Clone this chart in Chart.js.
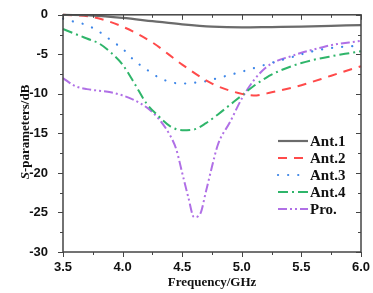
<!DOCTYPE html>
<html>
<head>
<meta charset="utf-8">
<script src="https://cdn.jsdelivr.net/npm/chart.js@4"></script>
<style>
  html, body { margin: 0; padding: 0; background: #fff; }
  #wrap { width: 373px; height: 293px; }
</style>
</head>
<body>
<div id="wrap"><canvas id="chart" width="373" height="293"></canvas></div>
<script>
// data
let freqAnt1 = [3.5, 3.75, 4.0, 4.25, 4.5, 4.75, 5.0, 5.25, 5.5, 5.75, 6.0];
let ant1 = [0, -0.1, -0.4, -0.8, -1.2, -1.5, -1.6, -1.55, -1.5, -1.4, -1.3];

let freqAnt2 = [3.5, 3.75, 4.0, 4.25, 4.5, 4.75, 5.0, 5.1, 5.25, 5.5, 5.75, 6.0];
let ant2 = [0, -0.3, -1.5, -3.5, -6.3, -8.7, -10.0, -10.2, -9.8, -8.9, -7.7, -6.5];

let freqFine = [3.5, 3.6, 3.7, 3.8, 3.9, 4.0, 4.1, 4.2, 4.3, 4.4, 4.5, 4.6, 4.7, 4.8, 4.9,
                5.0, 5.1, 5.2, 5.3, 5.4, 5.5, 5.6, 5.7, 5.8, 5.9, 6.0];
let ant3 = [-0.5, -0.9, -1.3, -2.1, -3.2, -4.3, -5.8, -6.9, -7.9, -8.5, -8.7, -8.6, -8.4, -8.0, -7.6,
            -7.2, -6.75, -6.3, -5.85, -5.45, -5.0, -4.6, -4.3, -4.1, -4.0, -3.9];
let ant4 = [-1.8, -2.4, -3.0, -3.6, -4.75, -6.3, -8.7, -11.2, -12.8, -14.1, -14.6, -14.5, -13.7, -12.6, -11.4,
            -10.2, -9.0, -8.0, -7.2, -6.6, -6.1, -5.7, -5.4, -5.1, -4.85, -4.6];

let freqPro = [3.5, 3.6, 3.7, 3.8, 3.9, 4.0, 4.1, 4.2, 4.3, 4.4, 4.45, 4.5, 4.55, 4.6, 4.65, 4.7, 4.75, 4.8,
               4.9, 5.0, 5.1, 5.2, 5.3, 5.4, 5.5, 5.6, 5.7, 5.8, 5.9, 6.0];
let pro = [-8.0, -9.0, -9.4, -9.6, -9.8, -10.2, -10.8, -11.7, -13.1, -15.3, -17.0, -20.0, -23.0, -25.6, -25.2,
           -22.3, -19.2, -16.4, -13.6, -10.6, -8.3, -6.7, -5.8, -5.3, -4.8, -4.4, -4.0, -3.7, -3.5, -3.3];

let labels = ["Ant.1", "Ant.2", "Ant.3", "Ant.4", "Pro."];

function pts(xs, ys) {
    return xs.map((x, i) => ({ x: x, y: ys[i] }));
}

let serif = "'Liberation Serif', 'Times New Roman', serif";
let sans = "'Liberation Sans', Arial, sans-serif";

// frame, ticks, legend and axis titles
let decor = {
    id: "decor",
    afterDraw(chart) {
        let ctx = chart.ctx;
        let a = chart.chartArea;
        let xs = chart.scales.x;
        let ys = chart.scales.y;
        ctx.save();
        ctx.strokeStyle = "#444";
        ctx.lineWidth = 1.5;
        ctx.strokeRect(a.left, a.top, a.right - a.left, a.bottom - a.top);

        ctx.lineWidth = 1;
        ctx.beginPath();
        for (let v = 3.5; v <= 6.001; v += 0.25) {
            let px = Math.round(xs.getPixelForValue(v)) + 0.5;
            let len = Math.abs((v * 2) % 1) < 0.01 ? 5 : 3;
            ctx.moveTo(px, a.bottom); ctx.lineTo(px, a.bottom + len);
            ctx.moveTo(px, a.top); ctx.lineTo(px, a.top + len);
        }
        for (let v = 0; v >= -30; v -= 2.5) {
            let py = Math.round(ys.getPixelForValue(v)) + 0.5;
            let len = Math.abs(v % 5) < 0.01 ? 5 : 3;
            ctx.moveTo(a.left, py); ctx.lineTo(a.left - len, py);
            ctx.moveTo(a.right, py); ctx.lineTo(a.right - len, py);
        }
        ctx.stroke();

        // legend
        chart.data.datasets.forEach((ds, i) => {
            let y = 141 + i * 17;
            ctx.strokeStyle = ds.borderColor;
            ctx.lineWidth = ds.borderWidth;
            ctx.lineCap = ds.borderCapStyle || "butt";
            ctx.setLineDash(ds.borderDash || []);
            ctx.beginPath();
            ctx.moveTo(278, y); ctx.lineTo(308, y);
            ctx.stroke();
            ctx.setLineDash([]);
            ctx.fillStyle = "#111";
            ctx.font = "bold 15px " + serif;
            ctx.textAlign = "left";
            ctx.textBaseline = "middle";
            ctx.fillText(ds.label, 310, y + 1);
        });

        // x title
        ctx.fillStyle = "#111";
        ctx.font = "bold 13px " + serif;
        ctx.textAlign = "center";
        ctx.textBaseline = "middle";
        ctx.fillText("Frequency/GHz", 212, 283);

        // y title with italic S
        ctx.translate(26, 132);
        ctx.rotate(-Math.PI / 2);
        ctx.textAlign = "left";
        let s1 = "S";
        let s2 = "-parameters/dB";
        ctx.font = "bold italic 13px " + serif;
        let w1 = ctx.measureText(s1).width;
        ctx.font = "bold 13px " + serif;
        let w2 = ctx.measureText(s2).width;
        let start = -(w1 + w2) / 2;
        ctx.font = "bold italic 13px " + serif;
        ctx.fillText(s1, start, 0);
        ctx.font = "bold 13px " + serif;
        ctx.fillText(s2, start + w1, 0);
        ctx.restore();
    }
};

new Chart(document.getElementById("chart"), {
    type: "line",
    data: {
        datasets: [
            { label: labels[0], data: pts(freqAnt1, ant1), borderColor: "#6b6b6b", borderWidth: 2.2 },
            { label: labels[1], data: pts(freqAnt2, ant2), borderColor: "#ff4a4a", borderWidth: 2, borderDash: [9, 7] },
            { label: labels[2], data: pts(freqFine, ant3), borderColor: "#3d86e8", borderWidth: 2.2, borderDash: [0.1, 10], borderCapStyle: "round" },
            { label: labels[3], data: pts(freqFine, ant4), borderColor: "#2fb56a", borderWidth: 2, borderDash: [10, 4, 2, 4] },
            { label: labels[4], data: pts(freqPro, pro), borderColor: "#b070e6", borderWidth: 2, borderDash: [9, 3, 2, 3, 2, 3] }
        ]
    },
    options: {
        responsive: false,
        animation: false,
        clip: false,
        elements: {
            point: { radius: 0 },
            line: { tension: 0.4, cubicInterpolationMode: "monotone", fill: false }
        },
        layout: { padding: { left: 0, right: 12, top: 8, bottom: 0 } },
        plugins: { legend: { display: false }, tooltip: { enabled: false } },
        scales: {
            x: {
                type: "linear",
                min: 3.5,
                max: 6.0,
                grid: { display: false },
                border: { display: false },
                ticks: {
                    stepSize: 0.5,
                    padding: 0,
                    color: "#111",
                    font: { family: sans, size: 13, weight: "bold" },
                    maxRotation: 0,
                    callback: v => v.toFixed(1)
                },
                afterFit: s => { s.height = 41; }
            },
            y: {
                min: -30,
                max: 0,
                grid: { display: false },
                border: { display: false },
                ticks: {
                    stepSize: 5,
                    padding: 7,
                    color: "#111",
                    font: { family: sans, size: 13, weight: "bold" }
                },
                afterFit: s => { s.width = 63; }
            }
        }
    },
    plugins: [decor]
});
</script>
</body>
</html>
